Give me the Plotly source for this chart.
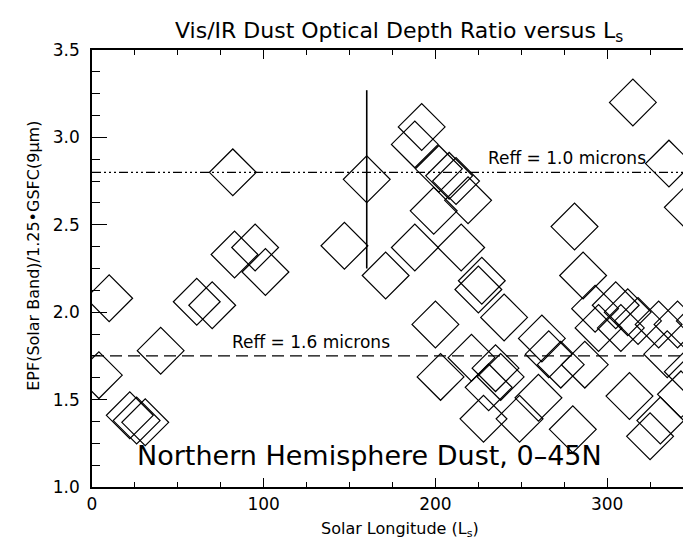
import plotly.graph_objects as go

# ---- data ----
ls_vals = [4, 10, 22, 26, 31, 40, 61, 70, 82, 83, 95, 101, 147, 171,
           188, 192, 188, 199, 200, 202, 203, 208, 212, 215, 219, 221, 225, 227,
           228, 235, 238, 231, 240, 249, 260, 262, 266, 273, 280, 281, 286, 287,
           293, 295, 305, 308, 312, 313, 315, 318, 325, 330, 331, 335, 336, 341,
           343, 347, 347, 354]
ratio_vals = [1.64, 2.08, 1.41, 1.38, 1.37, 1.78, 2.06, 2.04, 2.80, 2.33, 2.37, 2.23, 2.38, 2.21,
              2.96, 3.06, 2.37, 2.58, 1.93, 2.82, 1.63, 2.78, 2.75, 2.37, 2.64, 1.74, 2.13, 2.18,
              1.39, 1.68, 1.63, 1.57, 1.97, 1.39, 1.51, 1.85, 1.76, 1.70, 1.33, 2.49, 2.21, 1.70,
              2.02, 1.91, 2.04, 1.91, 2.00, 1.52, 3.20, 1.95, 1.29, 1.93, 1.38, 1.76, 2.85, 1.93,
              1.53, 2.60, 1.66, 1.95]

err_ls = [160]
err_ratio = [2.76]
err_size = [0.51]

reff_10 = 2.80
reff_16 = 1.75
line_x = [0, 360]

x_range = [0, 353.5]
y_range = [1.0, 3.5]
x_tickvals = [0, 100, 200, 300]
x_ticktext = ["0", "100", "200", "300"]
y_tickvals = [1.0, 1.5, 2.0, 2.5, 3.0, 3.5]
y_ticktext = ["1.0", "1.5", "2.0", "2.5", "3.0", "3.5"]

FONT = "DejaVu Sans"

fig = go.Figure()

fig.add_trace(go.Scatter(
    x=line_x, y=[reff_10, reff_10], mode="lines",
    line=dict(color="black", width=1.2, dash="9px,3px,2px,3px,2px,3px,2px,3px"),
    hoverinfo="skip"))
fig.add_trace(go.Scatter(
    x=line_x, y=[reff_16, reff_16], mode="lines",
    line=dict(color="black", width=1.2, dash="12px,6px"),
    hoverinfo="skip"))

fig.add_trace(go.Scatter(
    x=ls_vals, y=ratio_vals, mode="markers",
    marker=dict(symbol="diamond-open", size=36, color="black",
                line=dict(width=1.2, color="black"))))

fig.add_trace(go.Scatter(
    x=err_ls, y=err_ratio, mode="markers",
    marker=dict(symbol="diamond-open", size=36, color="black",
                line=dict(width=1.2, color="black")),
    error_y=dict(type="data", array=err_size, visible=True,
                 width=0, thickness=1.6, color="black")))

annotations = [
    dict(text="Reff = 1.0 microns", x=229.5, y=2.88, xref="x", yref="y",
         xanchor="left", yanchor="middle", showarrow=False,
         font=dict(family=FONT, size=17, color="black")),
    dict(text="Reff = 1.6 microns", x=80.3, y=1.83, xref="x", yref="y",
         xanchor="left", yanchor="middle", showarrow=False,
         font=dict(family=FONT, size=17, color="black")),
    dict(text="Northern Hemisphere Dust, 0\u201345N", x=25, y=1.18, xref="x", yref="y",
         xanchor="left", yanchor="middle", showarrow=False,
         font=dict(family=FONT, size=27, color="black")),
    dict(text="Solar Longitude (L<sub>s</sub>)", x=0.5066, y=-0.098,
         xref="paper", yref="paper", xanchor="center", yanchor="middle",
         showarrow=False, font=dict(family=FONT, size=16, color="black")),
    dict(text="EPF(Solar Band)/1.25\u2022GSFC(9\u00b5m)", x=-0.0956, y=0.529,
         xref="paper", yref="paper", xanchor="center", yanchor="middle",
         textangle=-90, showarrow=False,
         font=dict(family=FONT, size=16, color="black")),
]

fig.update_layout(
    width=691, height=540,
    margin=dict(l=84, r=0, t=42, b=61),
    paper_bgcolor="white", plot_bgcolor="white",
    showlegend=False,
    font=dict(family=FONT, color="black"),
    title=dict(text="Vis/IR Dust Optical Depth Ratio versus L<sub>s</sub>",
               x=0.566, xanchor="center", y=1 - 22 / 540, yanchor="middle",
               font=dict(family=FONT, size=22, color="black")),
    annotations=annotations,
    xaxis=dict(range=x_range, tickvals=x_tickvals, ticktext=x_ticktext,
               ticks="inside", ticklen=9, tickwidth=1.3, tickcolor="black",
               showline=True, linecolor="black", linewidth=1.5, mirror="ticks",
               showgrid=False, zeroline=False,
               tickfont=dict(family=FONT, size=17, color="black"),
               ticklabelstandoff=1,
               minor=dict(dtick=25, tick0=0, ticks="inside", ticklen=5,
                          tickwidth=1.2, tickcolor="black", showgrid=False)),
    yaxis=dict(range=y_range, tickvals=y_tickvals, ticktext=y_ticktext,
               ticks="inside", ticklen=15, tickwidth=1.3, tickcolor="black",
               showline=True, linecolor="black", linewidth=1.5,
               showgrid=False, zeroline=False,
               tickfont=dict(family=FONT, size=17, color="black"),
               ticklabelstandoff=7,
               minor=dict(dtick=0.125, tick0=1.0, ticks="inside", ticklen=8,
                          tickwidth=1.2, tickcolor="black", showgrid=False)),
)

fig.write_html("out.html")
